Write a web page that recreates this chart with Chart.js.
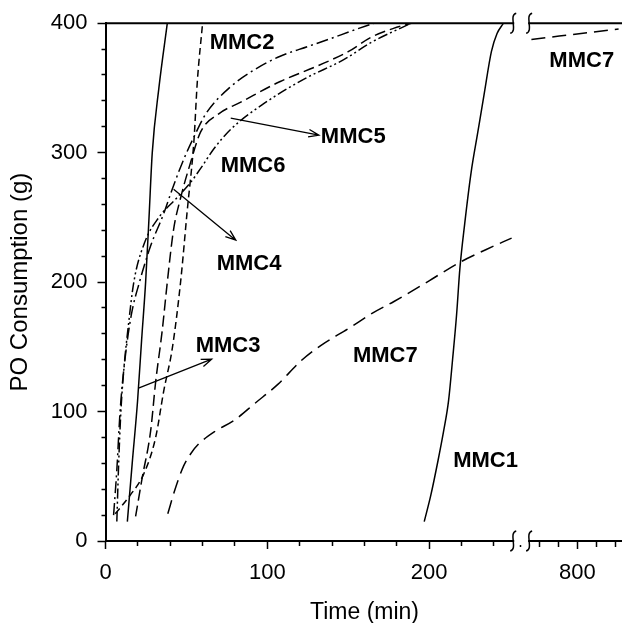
<!DOCTYPE html>
<html>
<head>
<meta charset="utf-8">
<title>PO Consumption</title>
<script src="https://cdn.jsdelivr.net/npm/chart.js@4.4.0/dist/chart.umd.min.js"></script>
<style>
  html, body { margin: 0; padding: 0; background: #fff; overflow: hidden; }
  #wrap { width: 630px; height: 623px; position: relative; }
</style>
</head>
<body>
<div id="wrap"><canvas id="chart"></canvas></div>
<script>
// time (min) and PO consumption (g)
var mmc1Time = [197, 201, 205.5, 209, 212, 214.5, 217, 219, 222, 226, 230, 234, 238.5, 242, 246];
var mmc1Po   = [15, 35, 62, 85, 108, 140, 175, 210, 245, 285, 315, 345, 378, 392, 400];

var mmc2Time = [6, 15, 23.7, 31, 36, 41.3, 46.4, 50.5, 54.7, 56.7, 60];
var mmc2Po   = [21, 35, 52, 80, 116, 149, 200, 255, 310, 354, 400];

var mmc3Time = [13.5, 16.5, 19.8, 22.3, 24.8, 26.9, 28.9, 33, 38.2];
var mmc3Po   = [15, 60, 108, 155, 200, 250, 300, 350, 400];

var mmc4Time = [18.6, 22.7, 27.9, 31, 35, 38.2, 42, 46.4, 52, 58.8, 70, 83.6, 108, 131, 150, 164, 178, 189];
var mmc4Po   = [19, 49, 85, 123, 162, 200, 240, 265, 290, 316, 330, 339, 355, 367, 378, 389, 396, 400];

var mmc5Time = [5, 7, 9, 12, 16, 21, 27.9, 36, 41.3, 48.4, 54.6, 62, 77.4, 92, 108, 125, 139, 152, 166];
var mmc5Po   = [20, 55, 100, 140, 175, 200, 228, 253, 272, 295, 312, 330, 351, 364, 374.5, 382, 388, 394, 400];

var mmc6Time = [7, 8, 9.5, 11.5, 14, 17.5, 24, 33, 44, 52.6, 60, 67, 77.4, 98, 123, 147.5, 164, 189];
var mmc6Po   = [15, 55, 100, 135, 165, 200, 230, 250, 265, 277, 290, 303, 318, 338, 357, 372, 385, 400];

var mmc7Time = [38.5, 43, 48.3, 53, 57.6, 68, 79.3, 93, 106.5, 120.7, 133, 150, 165, 178.3, 200, 218.6, 235, 251];
var mmc7Po   = [21, 40, 58, 68, 75, 85, 93, 107, 121, 139, 151, 164, 176, 185, 201, 215, 225, 234];

// MMC7 after the axis break
var mmc7LateTime = [678, 909];
var mmc7LatePo   = [387.5, 395.5];

var fontFamily = '"Liberation Sans", Arial, Helvetica, sans-serif';

function pts(t, p) {
    return t.map(function (v, i) { return { x: v, y: p[i] }; });
}

function curve(label, t, p, dash, axis) {
    return {
        label: label,
        data: pts(t, p),
        xAxisID: axis || 'x',
        borderColor: '#000',
        borderWidth: 1.5,
        borderDash: dash,
        pointRadius: 0,
        fill: false,
        cubicInterpolationMode: 'monotone'
    };
}

// curve labels and arrows, in data units
var notes = [
    { text: 'MMC2', t: 64.4, v: 385, axis: 'x' },
    { text: 'MMC6', t: 71.2, v: 289.6, axis: 'x' },
    { text: 'MMC5', t: 133.1, v: 312, axis: 'x' },
    { text: 'MMC4', t: 68.7, v: 213.9, axis: 'x' },
    { text: 'MMC3', t: 55.7, v: 150.6, axis: 'x' },
    { text: 'MMC7', t: 152.9, v: 142.9, axis: 'x' },
    { text: 'MMC1', t: 214.9, v: 61.8, axis: 'x' },
    { text: 'MMC7', t: 725.6, v: 370.7, axis: 'x2' }
];
var arrows = [
    { t1: 20.4, v1: 118.1, t2: 65.6, v2: 140.5 },
    { t1: 42.1, v1: 271.8, t2: 80.5, v2: 232.4 },
    { t1: 77.4, v1: 326.6, t2: 131.9, v2: 313.5 }
];

function squiggle(ctx, x, y) {
    ctx.beginPath();
    ctx.moveTo(x + 3, y - 10);
    ctx.bezierCurveTo(x - 5, y - 8, x + 5, y + 8, x - 3, y + 10);
    ctx.stroke();
}

var extras = {
    id: 'extras',
    afterDraw: function (chart) {
        var ctx = chart.ctx;
        var area = chart.chartArea;
        var xs = chart.scales.x, x2 = chart.scales.x2, ys = chart.scales.y;
        ctx.save();

        // top frame line
        ctx.strokeStyle = '#000';
        ctx.lineWidth = 2;
        ctx.beginPath();
        ctx.moveTo(area.left, area.top);
        ctx.lineTo(area.right, area.top);
        ctx.stroke();

        // axis break
        var gapL = xs.getPixelForValue(252);
        var gapR = x2.getPixelForValue(672);
        ctx.fillStyle = '#fff';
        ctx.fillRect(gapL + 1, area.top - 4, gapR - gapL - 2, 8);
        ctx.fillRect(gapL + 1, area.bottom - 4, gapR - gapL - 2, 8);
        ctx.lineWidth = 1.5;
        [gapL, gapR].forEach(function (gx) {
            squiggle(ctx, gx, area.top);
            squiggle(ctx, gx, area.bottom);
        });

        // arrows
        ctx.lineWidth = 1.3;
        arrows.forEach(function (a) {
            var px1 = xs.getPixelForValue(a.t1), py1 = ys.getPixelForValue(a.v1);
            var px2 = xs.getPixelForValue(a.t2), py2 = ys.getPixelForValue(a.v2);
            var ang = Math.atan2(py2 - py1, px2 - px1);
            ctx.beginPath();
            ctx.moveTo(px1, py1);
            ctx.lineTo(px2, py2);
            ctx.moveTo(px2 - 11 * Math.cos(ang - 0.35), py2 - 11 * Math.sin(ang - 0.35));
            ctx.lineTo(px2, py2);
            ctx.lineTo(px2 - 11 * Math.cos(ang + 0.35), py2 - 11 * Math.sin(ang + 0.35));
            ctx.stroke();
        });

        // labels
        ctx.fillStyle = '#000';
        ctx.font = 'bold 22px ' + fontFamily;
        ctx.textAlign = 'left';
        ctx.textBaseline = 'middle';
        notes.forEach(function (n) {
            var sc = chart.scales[n.axis];
            ctx.fillText(n.text, sc.getPixelForValue(n.t), ys.getPixelForValue(n.v));
        });
        ctx.restore();
    }
};

var tickFont = { family: fontFamily, size: 22 };

new Chart(document.getElementById('chart'), {
    type: 'line',
    data: {
        datasets: [
            curve('MMC1', mmc1Time, mmc1Po, []),
            curve('MMC2', mmc2Time, mmc2Po, [7, 4]),
            curve('MMC3', mmc3Time, mmc3Po, []),
            curve('MMC4', mmc4Time, mmc4Po, [11, 5]),
            curve('MMC5', mmc5Time, mmc5Po, [12, 4, 2, 4]),
            curve('MMC6', mmc6Time, mmc6Po, [10, 3, 2, 3, 2, 3]),
            curve('MMC7', mmc7Time, mmc7Po, [14, 7]),
            curve('MMC7 late', mmc7LateTime, mmc7LatePo, [14, 7], 'x2')
        ]
    },
    options: {
        responsive: true,
        maintainAspectRatio: false,
        animation: false,
        layout: { padding: { left: 4, top: 22, right: 0, bottom: 0 } },
        plugins: {
            legend: { display: false },
            tooltip: { enabled: false },
            title: {
                display: true,
                text: 'Time (min)',
                position: 'bottom',
                fullSize: false,
                color: '#000',
                font: { family: fontFamily, size: 23, weight: 'normal' },
                padding: { top: 1, bottom: -3 }
            }
        },
        scales: {
            x: {
                type: 'linear',
                position: 'bottom',
                stack: 'time',
                stackWeight: 413.4,
                min: 0,
                max: 256,
                ticks: {
                    stepSize: 20,
                    includeBounds: false,
                    autoSkip: false,
                    maxRotation: 0,
                    padding: 11,
                    color: '#000',
                    font: tickFont,
                    callback: function (v) { return v % 100 === 0 ? String(v) : ''; }
                },
                grid: {
                    drawOnChartArea: false,
                    tickLength: 8,
                    tickWidth: 1.5,
                    tickColor: '#000',
                    tickBorderDash: function (c) { return c.tick && c.tick.value % 100 === 0 ? [] : [4, 100]; }
                },
                border: { color: '#000', width: 2 }
            },
            x2: {
                type: 'linear',
                position: 'bottom',
                stack: 'time',
                stackWeight: 103.6,
                min: 647,
                max: 922,
                ticks: {
                    stepSize: 50,
                    includeBounds: false,
                    autoSkip: false,
                    maxRotation: 0,
                    padding: 11,
                    color: '#000',
                    font: tickFont,
                    callback: function (v) { return v === 800 ? '800' : ''; }
                },
                grid: {
                    drawOnChartArea: false,
                    tickLength: 8,
                    tickWidth: 1.5,
                    tickColor: '#000',
                    tickBorderDash: function (c) { return c.tick && c.tick.value === 800 ? [] : [5, 100]; }
                },
                border: { color: '#000', width: 2 }
            },
            y: {
                position: 'left',
                min: 0,
                max: 400,
                ticks: {
                    stepSize: 20,
                    autoSkip: false,
                    padding: 10,
                    color: '#000',
                    font: tickFont,
                    callback: function (v) { return v % 100 === 0 ? String(v) : ''; }
                },
                grid: {
                    drawOnChartArea: false,
                    tickLength: 8,
                    tickWidth: 1.5,
                    tickColor: '#000',
                    tickBorderDash: function (c) { return c.tick && c.tick.value % 100 === 0 ? [] : [0, 4, 100, 0]; }
                },
                border: { color: '#000', width: 2 },
                title: {
                    display: true,
                    text: 'PO Consumption (g)',
                    color: '#000',
                    font: { family: fontFamily, size: 24 },
                    padding: { top: 2, bottom: 6 }
                }
            }
        }
    },
    plugins: [extras]
});
</script>
</body>
</html>
